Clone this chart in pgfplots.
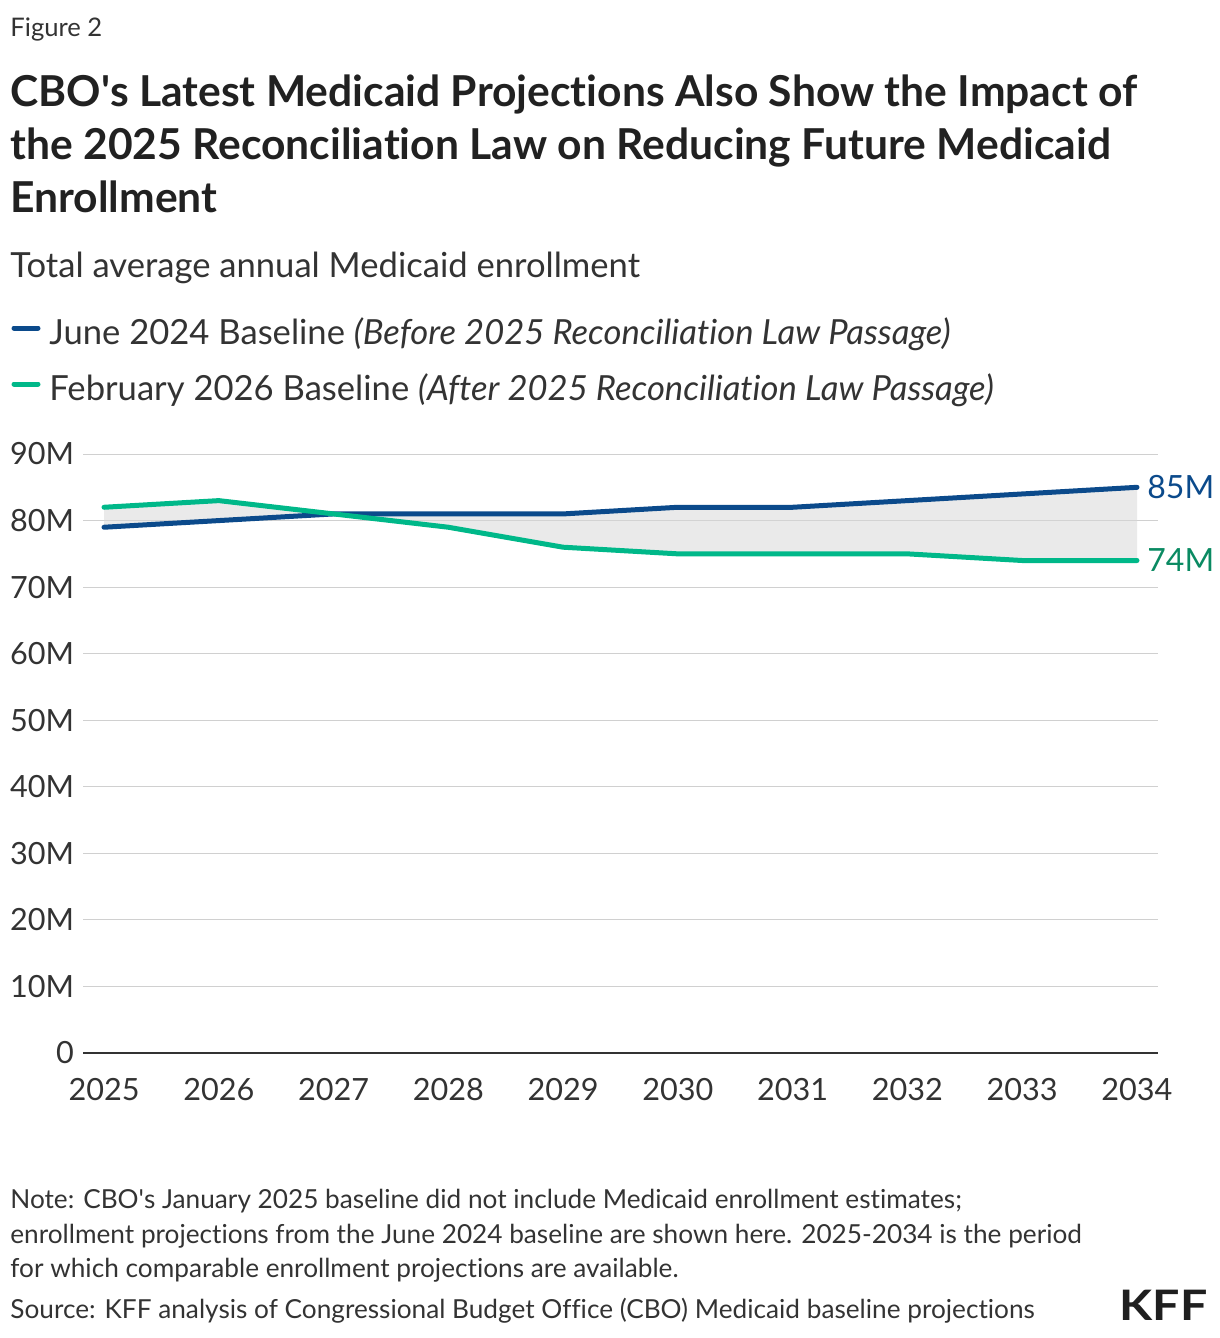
\documentclass[border=0pt]{standalone}
\usepackage{fontspec}
\setmainfont{Lato}[Ligatures={TeX,NoCommon}]
\usepackage{graphicx}
\usepackage{pgfplots}
\usepackage{pgfplotstable}
\pgfplotsset{compat=1.18}
\usepgfplotslibrary{fillbetween}

\definecolor{kffblue}{HTML}{0B4A8B}
\definecolor{kffgreen}{HTML}{00B889}
\definecolor{kffgreendark}{HTML}{0A8A62}
\definecolor{txt}{HTML}{333333}
\definecolor{gridc}{HTML}{D0D0D0}
\definecolor{fillc}{HTML}{D6D6D6}
\newcommand{\aps}{\textquotesingle}

% average annual enrollment, millions
\pgfplotstableread{
year jun2024 feb2026
2025 79 82
2026 80 83
2027 81 81
2028 81 79
2029 81 76
2030 82 75
2031 82 75
2032 83 75
2033 84 74
2034 85 74
}\enroll

\begin{document}
\begin{tikzpicture}
% page frame
\path (0,0) rectangle (610pt,-669pt);

% heading block
\node[anchor=base west, inner sep=0, text=txt, font=\fontsize{12.8}{15}\selectfont] at (5pt,-18.5pt) {Figure 2};
\begin{scope}[every node/.style={anchor=base west, inner sep=0, text=black!87, font=\fontsize{21.3}{25}\selectfont\bfseries}]
\node at (5pt,-53.5pt) {CBO\aps s Latest Medicaid Projections Also Show the Impact of};
\node at (5pt,-80pt) {the 2025 Reconciliation Law on Reducing Future Medicaid};
\node at (5pt,-106.5pt) {Enrollment};
\end{scope}
\node[anchor=base west, inner sep=0, text=txt, font=\fontsize{17.3}{20}\selectfont] at (5pt,-138.5pt) {Total average annual Medicaid enrollment};

% legend
\draw[kffblue, line width=2.5pt, line cap=round] (7pt,-164pt) -- (19pt,-164pt);
\node[anchor=base west, inner sep=0, text=txt, font=\fontsize{17.3}{20}\selectfont] at (24.5pt,-172pt) {June 2024 Baseline \textit{(Before 2025 Reconciliation Law Passage)}};
\draw[kffgreen, line width=2.5pt, line cap=round] (7pt,-192pt) -- (19pt,-192pt);
\node[anchor=base west, inner sep=0, text=txt, font=\fontsize{17.3}{20}\selectfont] at (24.5pt,-200pt) {February 2026 Baseline \textit{(After 2025 Reconciliation Law Passage)}};

\begin{axis}[
  at={(41.5pt,-526.5pt)}, anchor=south west,
  width=537.5pt, height=299.5pt, scale only axis,
  xmin=2024.817, xmax=2034.183, ymin=0, ymax=90,
  axis x line*=bottom, axis y line*=left,
  y axis line style={draw=none},
  x axis line style={draw=black!80, line width=1pt, -},
  xtick={2025,...,2034},
  xticklabels={2025,2026,2027,2028,2029,2030,2031,2032,2033,2034},
  xtick style={draw=none},
  ytick={0,10,...,90},
  yticklabels={0,10M,20M,30M,40M,50M,60M,70M,80M,90M},
  ymajorgrids, grid style={draw=gridc, line width=0.5pt},
  ytick style={draw=none},
  tick label style={text=txt, font=\fontsize{15.3}{18}\selectfont},
  /pgf/number format/assume math mode=true,
  xticklabel style={yshift=-9pt},
  yticklabel style={xshift=-1pt},
  clip=false,
]
\addplot[draw=none, name path=jun, forget plot] table[x=year, y=jun2024] {\enroll};
\addplot[draw=none, name path=feb, forget plot] table[x=year, y=feb2026] {\enroll};
\addplot[fill=fillc, fill opacity=0.5, draw=none] fill between[of=jun and feb];
\addplot[kffblue, line width=2.5pt, line cap=round, line join=round] table[x=year, y=jun2024] {\enroll};
\addplot[kffgreen, line width=2.5pt, line cap=round, line join=round] table[x=year, y=feb2026] {\enroll};
\node[anchor=west, inner sep=0, text=kffblue, font=\fontsize{16}{19}\selectfont, xshift=5pt] at (axis cs:2034,85) {85M};
\node[anchor=west, inner sep=0, text=kffgreendark, font=\fontsize{16}{19}\selectfont, xshift=5pt] at (axis cs:2034,74) {74M};
\end{axis}

% notes
\begin{scope}[every node/.style={anchor=base west, inner sep=0, text=txt, font=\fontsize{13.1}{15}\selectfont}]
\node at (5pt,-604pt) {Note: CBO\aps s January 2025 baseline did not include Medicaid enrollment estimates;};
\node at (5pt,-621.5pt) {enrollment projections from the June 2024 baseline are shown here. 2025-2034 is the period};
\node at (5pt,-638.5pt) {for which comparable enrollment projections are available.};
\node at (5pt,-659pt) {Source: KFF analysis of Congressional Budget Office (CBO) Medicaid baseline projections};
\end{scope}
\node[anchor=base east, inner sep=0, text=black!88, font=\fontsize{21}{24}\selectfont\bfseries] at (604pt,-660pt) {\scalebox{1.15}[1]{KFF}};
\end{tikzpicture}
\end{document}
